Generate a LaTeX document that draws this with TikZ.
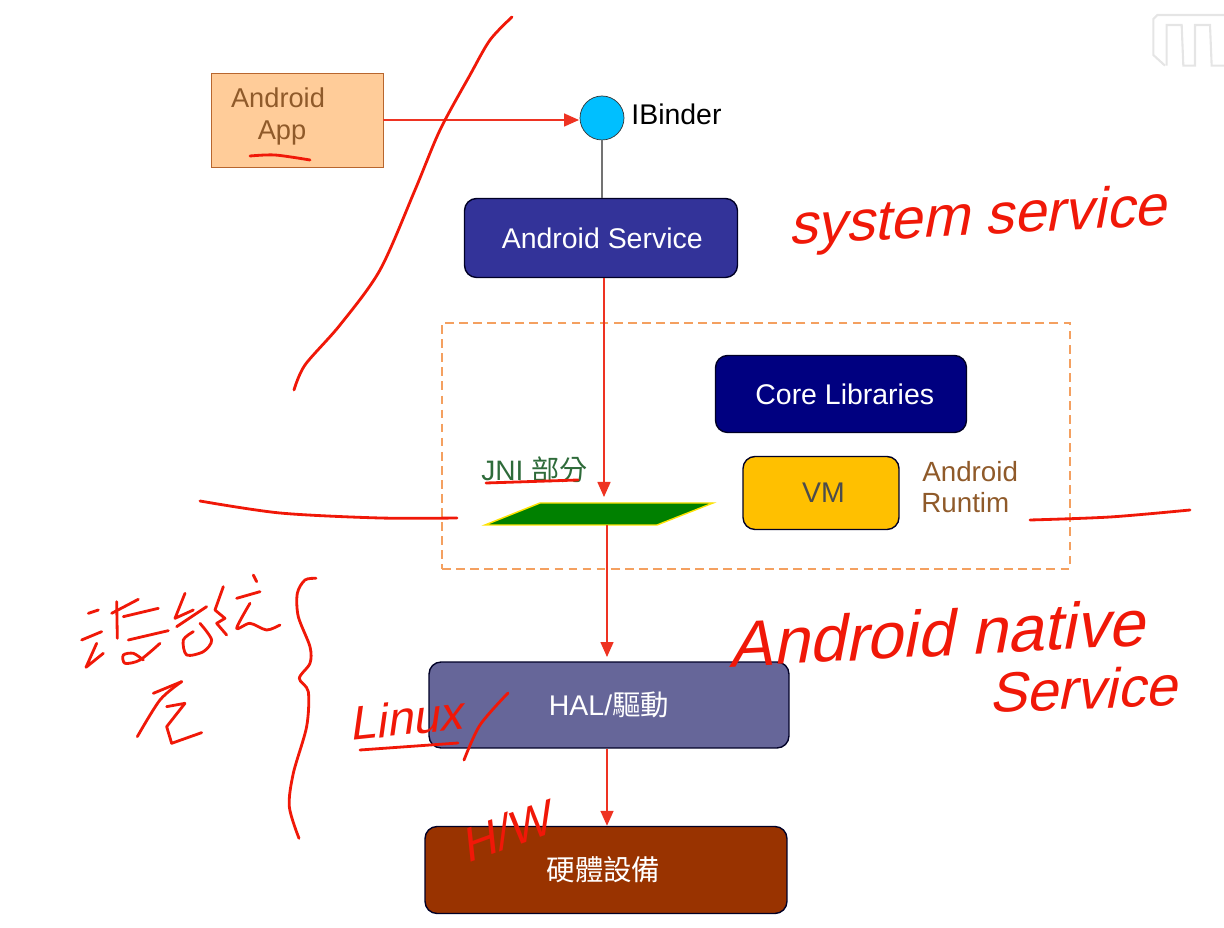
\documentclass[tikz,border=0pt]{standalone}
\usepackage{fontspec}
\usepackage{xcolor}
\setmainfont{Liberation Sans}
\newfontfamily\cjk{Noto Sans CJK TC}
\newfontfamily\inkfont[FakeSlant=0.25]{Liberation Sans}
\usetikzlibrary{arrows.meta}
\definecolor{inkred}{HTML}{F01808}
\definecolor{flowred}{HTML}{EE3322}
\definecolor{appfill}{HTML}{FFCC99}
\definecolor{appedge}{HTML}{B8662E}
\definecolor{brownlabel}{HTML}{8F5A2A}
\definecolor{binderfill}{HTML}{00BFFF}
\definecolor{servicefill}{HTML}{333399}
\definecolor{corefill}{HTML}{000080}
\definecolor{vmfill}{HTML}{FFC000}
\definecolor{halfill}{HTML}{666699}
\definecolor{hwfill}{HTML}{993300}
\definecolor{jnifill}{HTML}{008000}
\definecolor{jnilabel}{HTML}{2E6B3A}
\definecolor{dashedge}{HTML}{F4A060}
\tikzset{
  block/.style={draw=black!85!blue, rounded corners=0.24cm, text=white, line width=0.8pt,
    font=\fontsize{16.2}{18}\selectfont, inner sep=0pt},
  flow/.style={flowred, line width=0.9pt, -{Triangle[length=0.3cm,width=0.26cm]}},
  ink/.style={inkred, line width=1.6pt, line cap=round, line join=round},
  inktext/.style={inkred, font=\inkfont\fontsize{#1}{#1}\selectfont, inner sep=0pt},
  brownnote/.style={text=brownlabel, font=\fontsize{#1}{18}\selectfont, inner sep=0pt}
}
\begin{document}
\begin{tikzpicture}[x=0.02cm,y=-0.02cm]
    \useasboundingbox (0,0) rectangle (1224,928);
    % Logo
    \begin{scope}[shift={(1140,0)},scale=0.3333,black!10,line width=1.2pt]
      \draw (252,45) -- (52,45) -- (40,57) -- (40,165) -- (75,197);
      \draw (80,197) -- (80,75) -- (125,75) -- (130,197) -- (165,197) -- (165,75) -- (210,75) -- (215,197) -- (252,197);
    \end{scope}
    % Boxes
    \node[draw=appedge, fill=appfill, minimum width=3.44cm, minimum height=1.88cm, inner sep=0pt] (app) at (297,120) {};
    \node[brownnote=15.5] (appname) at (278,98) {Android};
    \node[brownnote=15.5] (appword) at (282,133) {App};
    \node[circle, draw=black!80, fill=binderfill, minimum size=0.88cm, inner sep=0pt] (binder) at (602,118) {};
    \node[anchor=west, font=\fontsize{16.2}{18}\selectfont, inner sep=0pt] (binderlabel) at (631,114) {IBinder};
    \node[block, fill=servicefill, minimum width=5.46cm, minimum height=1.58cm] (service) at (601,238) {\hspace*{0.05cm}Android Service};
    \node[draw=dashedge, dash pattern=on 5pt off 3pt, line width=1pt, minimum width=12.56cm, minimum height=4.92cm, inner sep=0pt] (native) at (756,446) {};
    \node[block, fill=corefill, minimum width=5.02cm, minimum height=1.54cm] (core) at (841,394) {\hspace*{0.15cm}Core Libraries};
    \node[block, fill=vmfill, text=black!70, minimum width=3.12cm, minimum height=1.46cm] (vm) at (821,493) {\hspace*{0.1cm}VM};
    \node[anchor=west, brownnote=15.8] (runtimea) at (922,472) {Android};
    \node[anchor=west, brownnote=15.8] (runtimeb) at (921,503) {Runtim};
    \node[anchor=west, text=jnilabel, font=\fontsize{16}{18}\selectfont, inner sep=0pt] (jninote) at (481,470) {JNI {\cjk 部分}};
    \draw[draw=yellow!85!orange, fill=jnifill, line width=0.8pt] (485,525) -- (540,503) -- (713,503) -- (657,525) -- cycle;
    \node[minimum width=4.5cm, minimum height=0.44cm, inner sep=0pt] (jni) at (599,514) {};
    \node[block, fill=halfill, minimum width=7.2cm, minimum height=1.72cm] (hal) at (609,705) {HAL/{\cjk 驅動}};
    \node[block, fill=hwfill, minimum width=7.24cm, minimum height=1.74cm] (hw) at (606,870) {{\cjk 硬體設備}\hspace*{0.1cm}};
    % Connectors
    \coordinate (binderin) at (579,120);
    \coordinate (jniin) at (604,497);
    \coordinate (halin) at (607,657);
    \draw[flow] (app.east |- binderin) -- (binderin);
    \draw[black!55, line width=0.9pt] (binder) -- (binder |- service.north);
    \draw[flow] (service.south -| jniin) -- (jniin);
    \draw[flow] (jni.south -| halin) -- (halin);
    \draw[flow] (hal.south -| halin) -- (hw.north -| halin);
    % Pen strokes
    \draw[ink] plot[smooth] coordinates {(512,17) (490,40) (470,75) (440,130) (415,190) (380,270) (340,325) (305,365) (294,390)};
    \draw[ink] plot[smooth] coordinates {(200,501) (280,513) (380,518) (457,518)};
    \draw[ink] plot[smooth] coordinates {(1030,520) (1110,517) (1190,510)};
    \draw[ink] plot[smooth] coordinates {(250,156) (275,155) (310,160)};
    \draw[ink] (486,483) -- (578,480);
    \draw[ink] (360,750) -- (458,743);
    \draw[ink] plot[smooth] coordinates {(508,693) (480,725) (464,760)};
    % Pen notes
    \node[inktext=32.5, rotate=3] (systemnote) at (977,220) {system service};
    \node[inktext=37, rotate=3] (nativenote) at (936,633) {Android native};
    \node[inktext=32, rotate=2] (servicenote) at (1082,689) {Service};
    \node[inktext=27, rotate=6] (linuxnote) at (405,718) {Linux};
    \node[inktext=27, rotate=20] (hwnote) at (505,832) {H/W};
    % Pen brace and note beside it
    \begin{scope}[shift={(60,560)},scale=0.3333]
      \draw[ink] plot[smooth] coordinates {(768,55) (735,60) (712,100) (715,170) (750,260) (750,310) (718,355) (745,395) (740,500) (700,640) (688,740) (717,835)};
      \draw[ink] (85,160) -- (115,150);
      \draw[ink] (65,240) -- (125,215);
      \draw[ink] (130,280) -- (78,322) -- (110,250);
      \draw[ink] (155,160) -- (235,118);
      \draw[ink] (170,125) -- (172,235);
      \draw[ink] (190,170) -- (295,145);
      \draw[ink] (205,240) -- (325,212);
      \draw[ink] plot[smooth] coordinates {(300,250) (240,300) (195,310) (190,285) (220,280) (250,300)};
      \draw[ink] (375,100) -- (345,175) -- (400,150);
      \draw[ink] (440,140) -- (350,200);
      \draw[ink] plot[smooth] coordinates {(420,190) (455,240) (430,275) (380,285) (370,240) (400,215)};
      \draw[ink] (490,80) -- (465,150) -- (495,175) -- (470,190) -- (500,225);
      \draw[ink] (580,45) -- (590,65);
      \draw[ink] (530,115) -- (600,95);
      \draw[ink] plot[smooth] coordinates {(570,130) (530,205) (570,190) (620,210) (660,195)};
      \draw[ink] (280,400) -- (365,365);
      \draw[ink] plot[smooth] coordinates {(365,365) (300,420) (232,530)};
      \draw[ink] (320,440) -- (375,430) -- (320,500) -- (335,550) -- (425,518);
    \end{scope}
\end{tikzpicture}
\end{document}
